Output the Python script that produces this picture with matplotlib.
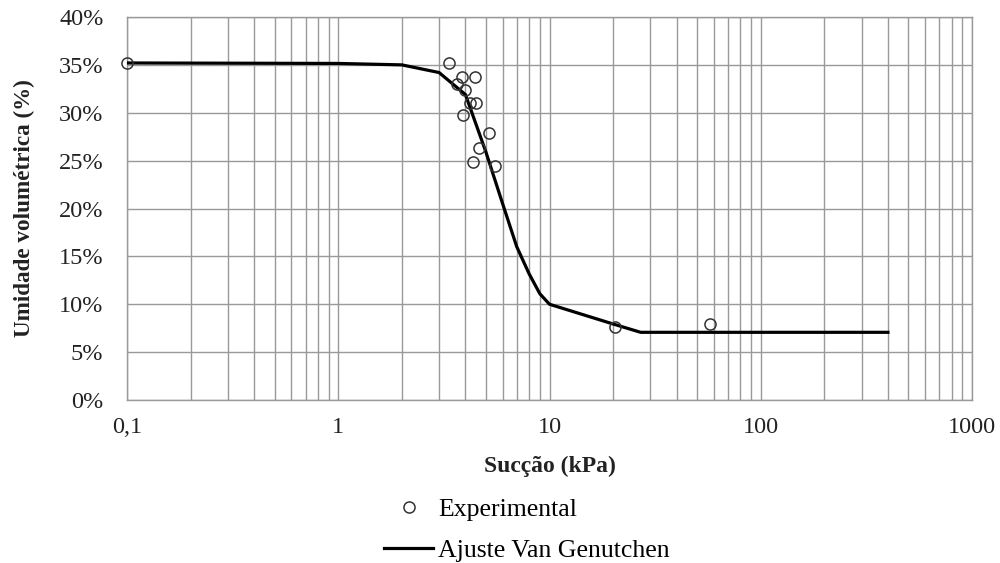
import matplotlib.pyplot as plt
from matplotlib.ticker import FuncFormatter, LogLocator, NullFormatter

plt.rcParams['font.family'] = ['Liberation Serif', 'DejaVu Serif']

# pontos experimentais (succao em kPa, umidade volumetrica em %)
sucExp = [0.1, 3.33, 3.86, 4.43, 3.65, 3.97, 4.22, 4.51, 3.9, 5.16, 4.62, 4.33, 5.55, 20.4, 57.3]
umiExp = [35.2, 35.2, 33.7, 33.7, 33.0, 32.4, 31.05, 31.05, 29.8, 27.85, 26.3, 24.9, 24.4, 7.66, 7.94]

# curva ajustada (Van Genuchten)
sucVG = [0.1, 1, 2, 3, 4, 5, 6, 7, 8, 9, 10, 20, 27, 400]
umiVG = [35.2, 35.15, 35.0, 34.2, 31.9, 25.9, 20.5, 16.0, 13.2, 11.1, 10.0, 7.94, 7.07, 7.07]

fig = plt.figure(figsize=(10, 5.63), dpi=100)
ax = fig.add_axes([0.127, 0.2895, 0.845, 0.6803])

ax.plot(sucExp, umiExp, 'o', mfc='none', mec='#333333', ms=8, mew=1.1,
        label='Experimental', zorder=4, clip_on=False)
ax.plot(sucVG, umiVG, '-', color='black', lw=2.3, label='Ajuste Van Genutchen', zorder=3)

ax.set_xscale('log')
ax.set_xlim(0.1, 1000)
ax.set_ylim(0, 40)
ax.set_yticks(range(0, 41, 5))
ax.yaxis.set_major_formatter(FuncFormatter(lambda v, p: '%d%%' % v))
ax.xaxis.set_major_locator(LogLocator(base=10, numticks=10))
ax.xaxis.set_minor_locator(LogLocator(base=10, subs=range(2, 10), numticks=10))
ax.xaxis.set_minor_formatter(NullFormatter())
ax.xaxis.set_major_formatter(FuncFormatter(lambda v, p: ('%g' % v).replace('.', ',')))

ax.grid(True, which='both', color='#999999', lw=1.0)
ax.set_axisbelow(True)
for s in ax.spines.values():
    s.set_color('#999999')
    s.set_linewidth(1.0)
ax.tick_params(which='both', length=0, labelsize=17.5, colors='#222222')
ax.tick_params(axis='y', pad=17)
ax.tick_params(axis='x', pad=12)

ax.set_xlabel('Sucção (kPa)', fontsize=17, fontweight='bold', labelpad=13, color='#222222')
ax.set_ylabel('Umidade volumétrica (%)', fontsize=16.7, fontweight='bold', labelpad=17, color='#222222')

fig.legend(loc='center', bbox_to_anchor=(0.527, 0.0585), frameon=False, fontsize=18.5,
           handlelength=1.9, handletextpad=0.2, labelspacing=0.68)

fig.savefig('out.png', dpi=100)
